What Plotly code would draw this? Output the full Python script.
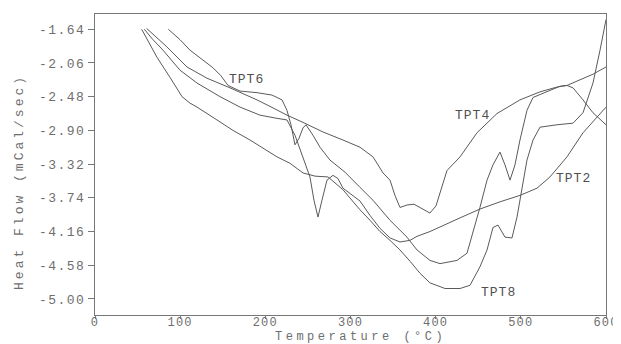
import plotly.graph_objects as go

# ---- data ----
tpt2_temp = [57.9, 68.1, 79.8, 99.8, 119.8, 146.8, 170.3, 193.7, 213.7, 225.4, 234.8, 243.0, 252.4, 257.1,
             261.8, 266.5, 272.4, 279.4, 285.3, 291.2, 311.2, 322.9, 334.6, 346.4, 358.1, 369.9, 378.1,
             393.3, 408.6, 428.6, 452.0, 475.5, 499.0, 519.0, 534.2, 546.0, 554.2, 573.0, 589.4, 600.0]
tpt2_flow = [-1.64, -1.77, -1.90, -2.15, -2.31, -2.48, -2.61, -2.71, -2.75, -2.77, -2.96, -3.21, -3.48, -3.77,
             -3.98, -3.77, -3.52, -3.46, -3.50, -3.62, -3.78, -3.96, -4.12, -4.24, -4.29, -4.27, -4.22,
             -4.16, -4.09, -3.99, -3.88, -3.79, -3.71, -3.62, -3.48, -3.33, -3.23, -2.93, -2.74, -2.61]

tpt4_temp = [60.7, 84.5, 108.0, 131.5, 158.5, 190.2, 209.0, 225.4, 244.2, 267.7, 291.2, 311.2, 326.4, 338.2,
             346.4, 352.2, 358.1, 366.3, 374.6, 381.6, 393.3, 400.4, 405.1, 413.3, 428.6, 448.5, 472.0,
             499.0, 522.5, 542.5, 554.2, 561.3, 573.0, 584.7, 600.0]
tpt4_flow = [-1.63, -1.86, -2.11, -2.25, -2.37, -2.52, -2.62, -2.71, -2.80, -2.92, -3.02, -3.11, -3.23, -3.43,
             -3.52, -3.71, -3.86, -3.83, -3.82, -3.86, -3.93, -3.84, -3.68, -3.40, -3.23, -2.93, -2.69,
             -2.52, -2.42, -2.36, -2.34, -2.37, -2.52, -2.68, -2.83]

tpt6_temp = [86.1, 99.8, 111.5, 125.6, 138.5, 147.9, 156.2, 170.3, 190.2, 207.8, 219.6, 225.4, 230.1, 234.8,
             239.5, 244.2, 247.7, 255.9, 264.2, 275.9, 293.5, 311.2, 326.4, 346.4, 366.3, 378.1, 393.3,
             405.1, 425.0, 436.8, 443.8, 452.0, 460.3, 467.3, 475.5, 481.4, 487.3, 493.1, 499.0, 507.2,
             514.3, 530.7, 546.0, 554.2, 569.5, 584.7, 600.0]
tpt6_flow = [-1.64, -1.77, -1.90, -2.02, -2.12, -2.22, -2.34, -2.41, -2.43, -2.46, -2.52, -2.65, -2.83, -3.08,
             -3.00, -2.87, -2.83, -2.96, -3.11, -3.27, -3.42, -3.61, -3.77, -4.02, -4.23, -4.39, -4.52,
             -4.56, -4.52, -4.43, -4.18, -3.86, -3.52, -3.33, -3.17, -3.33, -3.52, -3.33, -3.02, -2.65,
             -2.49, -2.42, -2.35, -2.34, -2.27, -2.20, -2.11]

tpt8_temp = [54.8, 64.6, 72.8, 88.1, 102.2, 111.5, 119.8, 143.2, 162.0, 182.0, 202.0, 213.7, 229.0, 244.2,
             258.3, 273.6, 291.2, 311.2, 322.9, 334.6, 346.4, 358.1, 369.9, 381.6, 393.3, 411.0, 428.6,
             440.3, 452.0, 460.3, 467.3, 473.2, 481.4, 489.6, 495.5, 501.4, 507.2, 514.3, 522.5, 542.5,
             561.3, 573.0, 584.7, 593.0, 600.0]
tpt8_flow = [-1.64, -1.84, -1.99, -2.24, -2.48, -2.56, -2.61, -2.77, -2.90, -3.02, -3.15, -3.23, -3.31, -3.43,
             -3.47, -3.48, -3.64, -3.89, -4.02, -4.16, -4.27, -4.39, -4.53, -4.68, -4.80, -4.87, -4.87,
             -4.83, -4.60, -4.39, -4.11, -4.08, -4.23, -4.24, -3.98, -3.61, -3.27, -3.02, -2.86, -2.83,
             -2.81, -2.68, -2.31, -1.90, -1.52]

series_names = ["TPT2", "TPT4", "TPT6", "TPT8"]
label_temp = [561.3, 442.7, 177.3, 473.2]
label_flow = [-3.495, -2.71, -2.26, -4.916]

x_ticks = [0, 100, 200, 300, 400, 500, 600]
y_ticks = [-1.64, -2.06, -2.48, -2.90, -3.32, -3.74, -4.16, -4.58, -5.00]

x_title = "Temperature (°C)"
y_title = "Heat Flow (mCal/sec)"

# ---- figure ----
FONT = "Liberation Mono, Courier New, monospace"
LINE_COL = "#5a5a5a"
TEXT_COL = "#6e6e6e"


def spaced(s, px):
    return '<span style="letter-spacing:%spx">%s</span>' % (px, s)


fig = go.Figure()
for name, t, v in [("TPT2", tpt2_temp, tpt2_flow), ("TPT4", tpt4_temp, tpt4_flow),
                   ("TPT6", tpt6_temp, tpt6_flow), ("TPT8", tpt8_temp, tpt8_flow)]:
    fig.add_trace(go.Scatter(x=t, y=v, mode="lines", name=name,
                             line=dict(color=LINE_COL, width=1), showlegend=False,
                             hoverinfo="skip"))

for name, lx, ly in zip(series_names, label_temp, label_flow):
    fig.add_annotation(x=lx, y=ly, xref="x", yref="y", text=spaced(name, 1),
                       showarrow=False, font=dict(family=FONT, size=13, color="#505050"))

fig.add_annotation(x=0.5186, y=-0.072, xref="paper", yref="paper", text=spaced(x_title, 3.5),
                   showarrow=False, font=dict(family=FONT, size=12, color=TEXT_COL),
                   xanchor="center", yanchor="middle")
fig.add_annotation(x=-0.1468, y=0.4419, xref="paper", yref="paper", text=spaced(y_title, 3.0),
                   showarrow=False, textangle=-90, font=dict(family=FONT, size=13, color=TEXT_COL),
                   xanchor="center", yanchor="middle")

# page body adds an 8px offset, so the figure is sized to fit the 621x344 window
fig.update_layout(
    width=613, height=336,
    margin=dict(l=87, r=15, t=6, b=29, autoexpand=False),
    paper_bgcolor="white", plot_bgcolor="white",
    xaxis=dict(range=[0, 600], tickvals=x_ticks, ticktext=[spaced(str(t), 1.2) for t in x_ticks],
               ticks="outside", ticklen=3, tickcolor="#777", showline=True, linecolor="#777",
               linewidth=1, mirror=True, showgrid=False, zeroline=False, automargin=False,
               ticklabelstandoff=-7,
               tickfont=dict(family=FONT, size=12, color=TEXT_COL)),
    yaxis=dict(range=[-5.20, -1.45], tickvals=y_ticks,
               ticktext=[spaced("%.2f" % t, 1.5) for t in y_ticks],
               ticks="outside", ticklen=6, tickcolor="#777", showline=True, linecolor="#777",
               linewidth=1, mirror=True, showgrid=False, zeroline=False, automargin=False,
               ticklabelstandoff=0,
               tickfont=dict(family=FONT, size=13, color=TEXT_COL)),
)

fig.write_html("out.html")
